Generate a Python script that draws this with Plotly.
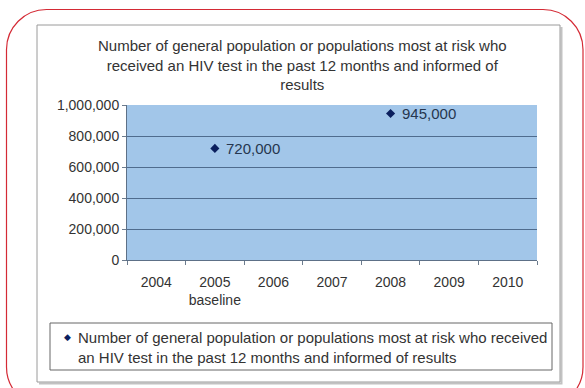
import plotly.graph_objects as go

# Reporting years on the category axis and the two recorded values
years = ["2004", "2005", "2006", "2007", "2008", "2009", "2010"]
year_labels = ["2004", "2005<br>baseline", "2006", "2007", "2008", "2009", "2010"]
point_years = ["2005", "2008"]
point_values = [720000, 945000]
y_ticks = [0, 200000, 400000, 600000, 800000, 1000000]

title_text = ("Number of general population or populations most at risk who<br>"
              "received an HIV test in the past 12 months and informed of<br>"
              "results")
series_name = ("Number of general population or populations most at risk who received<br>"
               "an HIV test in the past 12 months and informed of results")

W, H = 585, 388
FONT = "Liberation Sans, Arial, sans-serif"
MARKER_COLOR = "#0b1f5e"


def px(x):
    return x / W


def py(y):
    return 1 - y / H


def rounded_path(left, top, right, bottom, r):
    k = 0.5523 * r
    pts = [
        ("M", [(left, top + r)]),
        ("C", [(left, top + r - k), (left + r - k, top), (left + r, top)]),
        ("L", [(right - r, top)]),
        ("C", [(right - r + k, top), (right, top + r - k), (right, top + r)]),
        ("L", [(right, bottom - r)]),
        ("C", [(right, bottom - r + k), (right - r + k, bottom), (right - r, bottom)]),
        ("L", [(left + r, bottom)]),
        ("C", [(left + r - k, bottom), (left, bottom - r + k), (left, bottom - r)]),
    ]
    out = []
    for cmd, ps in pts:
        out.append(cmd + " " + " ".join(f"{px(a):.5f},{py(b):.5f}" for a, b in ps))
    return " ".join(out) + " Z"


fig = go.Figure()

fig.add_trace(go.Scatter(
    x=point_years, y=point_values, mode="markers",
    name=series_name.replace("<br>", " "),
    marker=dict(symbol="diamond", size=7, color=MARKER_COLOR),
    showlegend=False,
))

shapes = [
    # outer red rounded frame
    dict(type="path", xref="paper", yref="paper", layer="below",
         path=rounded_path(6.5, 9.5, 583, 407, 40),
         line=dict(color="#d42a35", width=1.2), fillcolor="rgba(0,0,0,0)"),
    # chart box with a soft shadow on the right and bottom
    dict(type="path", xref="paper", yref="paper", layer="below",
         path=(f"M {px(561.5)},{py(27)} L {px(561.5)},{py(383.5)} "
               f"L {px(39)},{py(383.5)}"),
         line=dict(color="#c2c2c2", width=2)),
    dict(type="rect", xref="paper", yref="paper", layer="below",
         x0=px(37), x1=px(560), y0=py(25), y1=py(382),
         line=dict(color="#9a9a9a", width=1), fillcolor="rgba(0,0,0,0)"),
    # legend frame
    dict(type="rect", xref="paper", yref="paper", layer="below",
         x0=px(50), x1=px(552), y0=py(323), y1=py(370),
         line=dict(color="#666666", width=1), fillcolor="rgba(0,0,0,0)"),
]

annotations = [
    dict(text=title_text, xref="paper", yref="paper",
         x=px(302), y=py(65), xanchor="center", yanchor="middle",
         align="center", showarrow=False,
         font=dict(family=FONT, size=15, color="#333333")),
    # legend entry: marker glyph and series name
    dict(text="◆", xref="paper", yref="paper",
         x=px(67), y=py(337), xanchor="center", yanchor="middle",
         showarrow=False, font=dict(family=FONT, size=9, color=MARKER_COLOR)),
    dict(text=series_name, xref="paper", yref="paper",
         x=px(76), y=py(347.5), xanchor="left", yanchor="middle",
         align="left", showarrow=False,
         font=dict(family=FONT, size=15, color="#333333")),
]

# value labels placed to the right of each point (category index on x)
for yr, v in zip(point_years, point_values):
    annotations.append(dict(
        text=f"{v:,}", x=years.index(yr), y=v, xref="x", yref="y",
        xanchor="left", yanchor="middle", xshift=9, showarrow=False,
        font=dict(family=FONT, size=15, color="#26364f"),
    ))

fig.update_layout(
    width=W, height=H,
    margin=dict(l=0, r=0, t=0, b=0),
    paper_bgcolor="white",
    plot_bgcolor="#a2c6e9",
    font=dict(family=FONT, size=14, color="#333333"),
    shapes=shapes,
    annotations=annotations,
    showlegend=False,
    xaxis=dict(
        domain=[px(127), px(537)],
        type="category", categoryorder="array", categoryarray=years,
        tickvals=years, ticktext=year_labels, tickangle=0,
        range=[-0.5, len(years) - 0.5],
        tickson="boundaries", ticks="outside", ticklen=4,
        ticklabelstandoff=9,
        tickcolor="#6d7c8e", showline=True, linecolor="#5d7087", linewidth=1,
        showgrid=False, zeroline=False, automargin=False,
        tickfont=dict(family=FONT, size=14, color="#333333"),
    ),
    yaxis=dict(
        domain=[py(260), py(105)],
        range=[0, 1000000],
        tickvals=y_ticks, ticktext=[f"{v:,}" for v in y_ticks],
        ticks="outside", ticklen=4, tickcolor="#6d7c8e",
        showline=True, linecolor="#5d7087", linewidth=1,
        showgrid=True, gridcolor="#4f6c8e", gridwidth=1,
        zeroline=False, automargin=False,
        tickfont=dict(family=FONT, size=14, color="#333333"),
    ),
)

fig.write_html("out.html")
